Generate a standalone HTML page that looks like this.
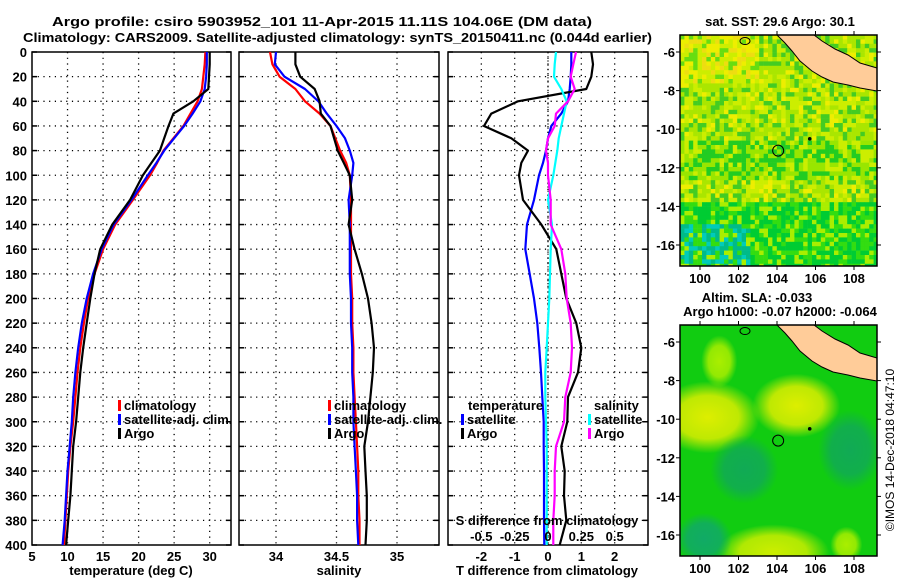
<!DOCTYPE html>
<html><head><meta charset="utf-8"><style>
html,body{margin:0;padding:0;background:#fff;}
svg text{font-family:"Liberation Sans",sans-serif;font-weight:bold;font-size:13px;fill:#000;}
</style></head><body>
<svg id="chart" width="900" height="580" viewBox="0 0 900 580" xmlns="http://www.w3.org/2000/svg">
<text x="52" y="26" textLength="540" lengthAdjust="spacingAndGlyphs">Argo profile: csiro 5903952_101 11-Apr-2015 11.11S 104.06E (DM data)</text>
<text x="23" y="42" textLength="629" lengthAdjust="spacingAndGlyphs">Climatology: CARS2009. Satellite-adjusted climatology: synTS_20150411.nc (0.044d earlier)</text>
<g id="plots"></g>
<g id="maps"></g>
<text transform="translate(894,450) rotate(-90)" text-anchor="middle" style="font-weight:normal;font-size:12px">©IMOS 14-Dec-2018 04:47:10</text>
</svg>
<script>
const depths=[0,10,20,30,40,50,60,70,80,90,100,120,140,160,180,200,220,240,260,280,300,320,340,360,380,400];
const tempClim=[29.4,29.3,29.1,28.9,28.3,27.3,26.3,24.9,23.5,22.6,21.6,19.2,16.7,15.0,13.8,12.9,12.3,11.8,11.4,11.1,10.8,10.4,10.1,9.9,9.7,9.5];
const tempSat=[29.6,29.6,29.5,29.3,28.7,27.6,26.4,25.0,23.6,22.5,21.3,19.0,16.5,14.8,13.6,12.7,12.0,11.5,11.1,10.8,10.6,10.3,10.0,9.8,9.6,9.3];
const tempArgo=[30.0,30.0,29.9,29.8,27.7,24.9,24.2,23.6,23.0,21.8,20.6,18.8,16.3,14.6,13.8,13.2,12.7,12.2,11.8,11.5,11.2,10.8,10.6,10.4,10.1,9.8];
const salClim=[33.95,33.97,34.03,34.16,34.24,34.36,34.45,34.49,34.53,34.58,34.61,34.62,34.62,34.62,34.62,34.63,34.63,34.64,34.64,34.65,34.66,34.67,34.68,34.68,34.69,34.69];
const salSat=[34.00,33.99,34.07,34.24,34.35,34.42,34.50,34.57,34.61,34.64,34.63,34.60,34.61,34.61,34.61,34.62,34.62,34.63,34.63,34.64,34.64,34.65,34.66,34.67,34.67,34.68];
const salArgo=[34.16,34.16,34.20,34.32,34.36,34.37,34.45,34.48,34.51,34.56,34.61,34.63,34.60,34.65,34.71,34.76,34.79,34.81,34.80,34.78,34.76,34.73,34.74,34.75,34.75,34.74];
const tDiffSat=[0.7,0.7,0.68,0.65,0.6,0.4,0.1,0.0,-0.06,-0.15,-0.27,-0.42,-0.63,-0.68,-0.55,-0.42,-0.32,-0.26,-0.21,-0.17,-0.13,-0.13,-0.12,-0.12,-0.12,-0.11];
const tDiffArgo=[1.3,1.35,1.3,1.15,-0.9,-1.7,-1.92,-1.1,-0.6,-0.8,-0.87,-0.75,-0.2,0.25,0.4,0.55,0.85,1.0,0.9,0.6,0.58,0.4,0.5,0.48,0.55,0.35];
const sDiffSat=[0.06,0.05,0.045,0.1,0.14,0.12,0.1,0.08,0.07,0.055,0.04,0.0,0.03,0.02,0.015,0.01,0.0,-0.01,-0.02,-0.02,-0.015,-0.01,-0.01,-0.01,-0.01,-0.01];
const sDiffArgo=[0.21,0.19,0.17,0.2,0.15,0.06,0.05,0.0,-0.015,0.0,0.0,0.02,0.02,0.1,0.13,0.14,0.17,0.18,0.17,0.13,0.12,0.06,0.05,0.05,0.04,0.04];
const depthTicks=[0,20,40,60,80,100,120,140,160,180,200,220,240,260,280,300,320,340,360,380,400];
const tempTicks=[5,10,15,20,25,30];
const salTicks=[34,34.5,35];
const salTickLabels=["34","34.5","35"];
const tDiffTicks=[-2,-1,0,1,2];
const sDiffTicks=[-0.5,-0.25,0,0.25,0.5];
const sDiffTickLabels=["-0.5","-0.25","0","0.25","0.5"];
const latTicks=[-6,-8,-10,-12,-14,-16];
const lonTicks=[100,102,104,106,108];

const NS="http://www.w3.org/2000/svg";
function mk(parent,tag,attrs){const e=document.createElementNS(NS,tag);for(const k in attrs)e.setAttribute(k,attrs[k]);parent.appendChild(e);return e;}
const Y0=52,Y1=545;
const yD=d=>Y0+(d/400)*(Y1-Y0);
function lin(d0,d1,r0,r1){return v=>r0+(v-d0)/(d1-d0)*(r1-r0);}
const plots=document.getElementById('plots');

function panel(name,x0,x1,xs,ticks,labels,showDepth){
  const g=mk(plots,'g',{});
  
  
  depthTicks.forEach(d=>{ if(d>0&&d<400){const l=mk(g,'line',{x1:x0,x2:x1,y1:yD(d),y2:yD(d),stroke:'#000','stroke-dasharray':'1.2,4.5','stroke-width':1.3});}
    const tk=mk(g,'line',{x1:x0,x2:x0+5,y1:yD(d),y2:yD(d),stroke:'#000','stroke-width':1.5});
    const tk2=mk(g,'line',{x1:x1-5,x2:x1,y1:yD(d),y2:yD(d),stroke:'#000','stroke-width':1.5});
    if(showDepth){const t=mk(g,'text',{x:x0-5,y:yD(d)+5,'text-anchor':'end'});t.textContent=d;}
  });
  ticks.forEach((v,i)=>{const x=xs(v);
    if(x>x0+2&&x<x1-2){const l=mk(g,'line',{x1:x,x2:x,y1:Y0,y2:Y1,stroke:'#000','stroke-dasharray':'1.2,4.5','stroke-width':1.3});}
    if(labels){const t=mk(g,'text',{x:x,y:561,'text-anchor':'middle'});t.textContent=labels[i];}
  });
  const r=mk(g,'rect',{x:x0,y:Y0,width:x1-x0,height:Y1-Y0,fill:'none',stroke:'#000','stroke-width':1.5});
  
  return g;
}
function series(g,vals,xs,color,name){
  const pts=vals.map((v,i)=>xs(v).toFixed(1)+','+yD(depths[i]).toFixed(1)).join(' ');
  const p=mk(g,'polyline',{points:pts,fill:'none',stroke:color,'stroke-width':2.2,'stroke-linejoin':'round'});
  
  
}
function legend(g,x,y,items){
  items.forEach((it,i)=>{const yy=y+i*14;
    if(it[0]){const b=mk(g,'rect',{x:x,y:yy-7,width:3,height:11,fill:it[0]});}
    const t=mk(g,'text',{x:x+(it[0]?6:0),y:yy+3});t.textContent=it[1];});
}
function axTitle(g,x,y,s,name){const t=mk(g,'text',{x:x,y:y,'text-anchor':'middle'});t.textContent=s;return t;}

const xT=lin(5,33,32,231);
const g1=panel('temperature-panel',32,231,xT,tempTicks,tempTicks.map(String),true);
series(g1,tempClim,xT,'#ff0000','temp-climatology-line');
series(g1,tempSat,xT,'#0000ff','temp-satellite-line');
series(g1,tempArgo,xT,'#000000','temp-argo-line');
legend(g1,118,407,[['#ff0000','climatology'],['#0000ff','satellite-adj. clim.'],['#000','Argo']]);
axTitle(g1,131,575,'temperature (deg C)','x-axis-title-temperature');

const xS=lin(34,35,276,397);
const g2=panel('salinity-panel',239,439,xS,salTicks,salTickLabels,false);
series(g2,salClim,xS,'#ff0000','sal-climatology-line');
series(g2,salSat,xS,'#0000ff','sal-satellite-line');
series(g2,salArgo,xS,'#000000','sal-argo-line');
legend(g2,328,407,[['#ff0000','climatology'],['#0000ff','satellite-adj. clim.'],['#000','Argo']]);
axTitle(g2,339,575,'salinity','x-axis-title-salinity');

const xTd=lin(-3,3,448,648);
const xSd=lin(-0.75,0.75,448,648);
const g3=panel('difference-panel',448,648,xTd,tDiffTicks,tDiffTicks.map(String),false);
const zl=mk(g3,'line',{x1:xTd(0),x2:xTd(0),y1:Y0,y2:Y1,stroke:'#000','stroke-dasharray':'1.2,3','stroke-width':1.2});

series(g3,tDiffSat,xTd,'#0000ff','tdiff-satellite-line');
series(g3,tDiffArgo,xTd,'#000000','tdiff-argo-line');
series(g3,sDiffSat,xSd,'#00ffff','sdiff-satellite-line');
series(g3,sDiffArgo,xSd,'#ff00ff','sdiff-argo-line');
legend(g3,468,407,[[null,'temperature']]);
legend(g3,461,421,[['#0000ff','satellite'],['#000','Argo']]);
legend(g3,594,407,[[null,'salinity']]);
legend(g3,588,421,[['#00ffff','satellite'],['#ff00ff','Argo']]);
axTitle(g3,547,525,'S difference from climatology','s-diff-axis-title');
sDiffTicks.forEach((v,i)=>{const t=mk(g3,'text',{x:xSd(v),y:541,'text-anchor':'middle'});t.textContent=sDiffTickLabels[i];});
axTitle(g3,547,575,'T difference from climatology','x-axis-title-tdiff');

const maps=document.getElementById('maps');
const MX0=680,MX1=877;
const lonX=lon=>700+(lon-100)*19.25;
function hash(i,j){let h=(i*374761393+j*668265263)>>>0;h=((h^(h>>>13))*1274126177)>>>0;return ((h^(h>>>16))>>>0)/4294967296;}
const landPts=[[777,0],[785,8],[792,16],[800,26],[812,36],[822,42],[833,47],[848,50],[860,53],[877,56],[877,33],[860,28],[848,20],[835,14],[822,6],[814,0]];
function mapPanel(name,top,titleLines,kind){
  const g=mk(maps,'g',{});
  
  
  const H=231;
  const latY=lat=>top+17+(-6-lat)*19.3;
  const clipId='clip'+top;
  const cp=mk(mk(g,'defs',{}),'clipPath',{id:clipId});mk(cp,'rect',{x:MX0,y:top,width:MX1-MX0,height:H});
  const inner=mk(g,'g',{'clip-path':'url(#'+clipId+')'});
  if(kind==='sst'){
    const cs=4.4;
    for(let j=0;j*cs<H;j++)for(let i=0;i*cs<MX1-MX0;i++){
      const r=hash(i,j),fy=j*cs/H,fx=i*cs/(MX1-MX0);
      let c;
      if(fy>0.8&&fx<0.35&&r<0.6) c=r<0.25?'#00ccbb':'#00bb88';
      else if(fy>0.72) c=r<0.5?'#00cc33':(r<0.78?'#33dd11':'#aaee00');
      else if(fy>0.45&&fy<0.62) c=r<0.35?'#22cc22':(r<0.75?'#99e600':'#ccee00');
      else if(fy<0.2&&fx<0.4) c=r<0.15?'#66dd11':(r<0.5?'#ccee00':(r<0.8?'#eeee00':'#eedd11'));
      else c=r<0.25?'#44cc22':(r<0.6?'#aae600':(r<0.88?'#ccee00':'#eeee00'));
      mk(inner,'rect',{x:MX0+i*cs,y:top+j*cs,width:cs+0.3,height:cs+0.3,fill:c});
    }
  } else {
    mk(inner,'rect',{x:MX0,y:top,width:MX1-MX0,height:H,fill:'#11cc11'});
    const defs=mk(g,'defs',{});
    const blobs=[[105,-9.3,44,32,'#ddee00'],[100.4,-9.9,52,36,'#ddee00'],[101,-7,18,26,'#aaee00'],[103.8,-16.9,56,28,'#ccee00'],[107.6,-16.5,16,18,'#aaee00'],[102.3,-12.6,34,34,'#11aa55'],[100.2,-16.2,28,26,'#11aa66'],[107.8,-11.6,32,40,'#11aa55']];
    blobs.forEach((b,k)=>{const gr=mk(defs,'radialGradient',{id:'bg'+k});mk(gr,'stop',{offset:'0','stop-color':b[4],'stop-opacity':1});mk(gr,'stop',{offset:'0.6','stop-color':b[4],'stop-opacity':0.85});mk(gr,'stop',{offset:'1','stop-color':b[4],'stop-opacity':0});
      const e=mk(inner,'ellipse',{cx:lonX(b[0]),cy:latY(b[1]),rx:b[2],ry:b[3],fill:'url(#bg'+k+')'});});
  }
  const land=mk(inner,'polygon',{points:landPts.map(p=>p[0]+','+(top+p[1])).join(' '),fill:'#ffcc99',stroke:'#000','stroke-width':1});
  
  mk(inner,'ellipse',{cx:745,cy:top+6,rx:5,ry:3.5,fill:'none',stroke:'#000','stroke-width':1});
  const pos=mk(g,'circle',{cx:lonX(104.06),cy:latY(-11.11),r:5.5,fill:'none',stroke:'#000','stroke-width':1});
  
  mk(g,'circle',{cx:lonX(105.7),cy:latY(-10.5),r:1.8,fill:'#000'});
  const fr=mk(g,'rect',{x:MX0,y:top,width:MX1-MX0,height:H,fill:'none',stroke:'#000','stroke-width':1.5});
  
  latTicks.forEach(l=>{const y=latY(l);mk(g,'line',{x1:MX0-4,x2:MX0,y1:y,y2:y,stroke:'#000'});mk(g,'line',{x1:MX1,x2:MX1+4,y1:y,y2:y,stroke:'#000'});
    const t=mk(g,'text',{x:MX0-5,y:y+5,'text-anchor':'end'});t.textContent=l;});
  lonTicks.forEach(l=>{const x=lonX(l);mk(g,'line',{x1:x,x2:x,y1:top-4,y2:top,stroke:'#000'});mk(g,'line',{x1:x,x2:x,y1:top+H,y2:top+H+4,stroke:'#000'});
    const t=mk(g,'text',{x:x,y:top+H+17,'text-anchor':'middle'});t.textContent=l;});
  titleLines.forEach(tl=>{const t=mk(g,'text',{x:tl[1],y:tl[2],'text-anchor':'middle'});t.textContent=tl[0];});
}
mapPanel('sst-map',35,[['sat. SST: 29.6 Argo: 30.1',780,26]],'sst');
mapPanel('sla-map',325,[['Altim. SLA: -0.033',757,302],['Argo h1000: -0.07 h2000: -0.064',780,316]],'sla');
</script>
</body></html>
